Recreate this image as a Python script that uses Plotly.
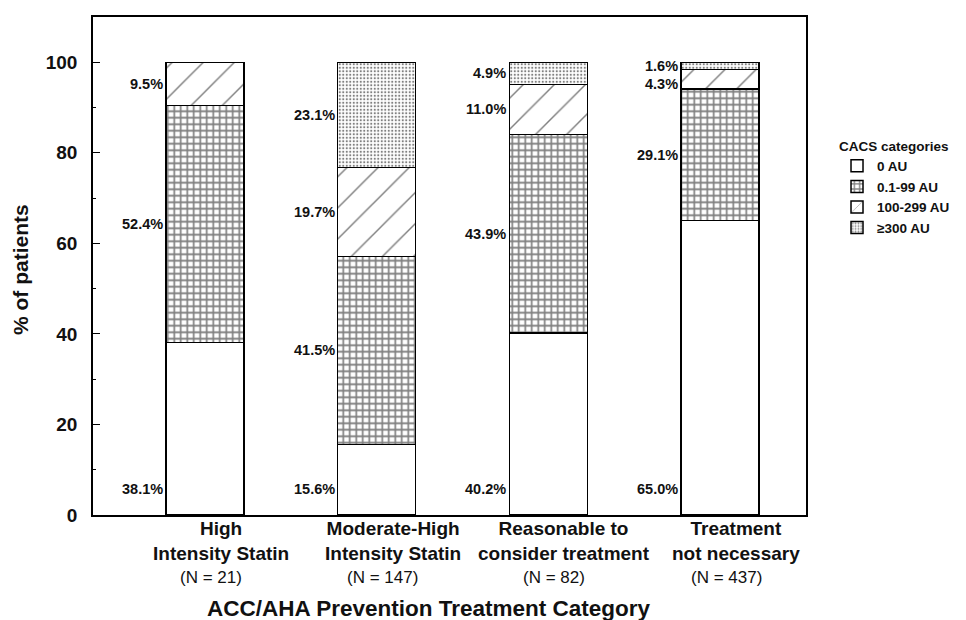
import plotly.graph_objects as go

# ---- data ----
categories = ["High<br>Intensity Statin", "Moderate-High<br>Intensity Statin",
              "Reasonable to<br>consider treatment", "Treatment<br>not necessary"]
n_labels = ["(N = 21)", "(N = 147)", "(N = 82)", "(N = 437)"]
series_names = ["0 AU", "0.1-99 AU", "100-299 AU", "≥300 AU"]
cacs_0 = [38.1, 15.6, 40.2, 65.0]
cacs_1_99 = [52.4, 41.5, 43.9, 29.1]
cacs_100_299 = [9.5, 19.7, 11.0, 4.3]
cacs_300 = [0.0, 23.1, 4.9, 1.6]
y_ticks = [0, 20, 40, 60, 80, 100]

series_values = [cacs_0, cacs_1_99, cacs_100_299, cacs_300]
patterns = [
    dict(shape=""),
    dict(shape="+", fgcolor="black", bgcolor="white", size=6.5, solidity=0.45),
    dict(shape="/", fgcolor="black", bgcolor="white", size=22, solidity=0.065),
    dict(shape=".", fgcolor="black", bgcolor="white", size=3.5, solidity=0.3),
]

FONT = "Liberation Sans, Arial, sans-serif"
BAR_W = 0.454
MIN_GAP = 4.0  # minimum label separation (axis units)
xs = list(range(len(categories)))

fig = go.Figure()
for name, vals, pat in zip(series_names, series_values, patterns):
    fig.add_trace(go.Bar(
        x=xs, y=vals, name=f"<b>{name}</b>", width=BAR_W,
        marker=dict(color="white", line=dict(color="black", width=1.5), pattern=pat),
        hoverinfo="skip",
    ))

annotations = []
lab_font = dict(size=14.5, family=FONT, color="#111")
# percentage labels to the left of each segment
for i in xs:
    base = 0.0
    placed = []
    for s, vals in enumerate(series_values):
        v = vals[i]
        if v > 0 and s > 0:
            placed.append((base + v / 2, v))
        elif v > 0 and s == 0:
            annotations.append(dict(x=i - BAR_W / 2, y=0, xref="x", yref="y",
                                    text=f"<b>{v:.1f}%</b>", showarrow=False,
                                    xanchor="right", yanchor="bottom", xshift=-1, yshift=16,
                                    font=lab_font))
        base += v
    # resolve overlaps from top down
    placed.sort(key=lambda p: -p[0])
    for k in range(1, len(placed)):
        if placed[k - 1][0] - placed[k][0] < MIN_GAP:
            placed[k] = (placed[k - 1][0] - MIN_GAP, placed[k][1])
    for yc, v in placed:
        annotations.append(dict(x=i - BAR_W / 2, y=yc, xref="x", yref="y",
                                text=f"<b>{v:.1f}%</b>", showarrow=False,
                                xanchor="right", yanchor="middle", xshift=-1,
                                font=lab_font))

# category labels and N labels
for i, c, t in zip(xs, categories, n_labels):
    annotations.append(dict(x=i, y=0, xref="x", yref="paper", text=f"<b>{c}</b>",
                            showarrow=False, xanchor="center", yanchor="top", yshift=-1,
                            xshift=16, align="center",
                            font=dict(size=19, family=FONT, color="#111")))
    annotations.append(dict(x=i, y=0, xref="x", yref="paper", text=t, showarrow=False,
                            xanchor="center", yanchor="middle", yshift=-62, xshift=6,
                            font=dict(size=17, family=FONT, color="#111")))

# axis titles
annotations.append(dict(x=0.47, y=0, xref="paper", yref="paper",
                        text="<b>ACC/AHA Prevention Treatment Category</b>", showarrow=False,
                        xanchor="center", yanchor="middle", yshift=-93,
                        font=dict(size=22.5, family=FONT, color="#111")))
annotations.append(dict(x=0, y=0.5, xref="paper", yref="paper",
                        text="<b>% of patients</b>", showarrow=False, textangle=-90,
                        xanchor="center", yanchor="middle", xshift=-73, yshift=-4,
                        font=dict(size=21, family=FONT, color="#111")))

fig.update_layout(
    width=958, height=612,
    margin=dict(l=85, r=160, t=7, b=105),
    barmode="stack",
    plot_bgcolor="white", paper_bgcolor="white",
    font=dict(family=FONT, color="#111"),
    showlegend=True,
    legend=dict(
        title=dict(text="<b>CACS categories</b>", font=dict(size=13.5, family=FONT)),
        x=1.0435, y=0.767, xanchor="left", yanchor="top",
        traceorder="normal", font=dict(size=13.5, family=FONT),
        bgcolor="rgba(0,0,0,0)", borderwidth=0,
    ),
    annotations=annotations,
    xaxis=dict(
        range=[-0.652, 3.5], tickvals=xs, showticklabels=False,
        ticks="", showgrid=False, zeroline=False,
        showline=True, linecolor="black", linewidth=1.5, mirror=True,
    ),
    yaxis=dict(
        range=[0, 110], tickvals=y_ticks, ticktext=[f"<b>{t}</b>" for t in y_ticks],
        ticks="inside", ticklen=7, tickwidth=1.2, tickcolor="black",
        minor=dict(tickvals=[10, 30, 50, 70, 90], ticks="inside", ticklen=3.5,
                   tickwidth=1.2, tickcolor="black"),
        showgrid=False, zeroline=False,
        showline=True, linecolor="black", linewidth=1.5, mirror=True,
        tickfont=dict(size=19, family=FONT, color="#111"),
        ticklabelstandoff=10,
    ),
)

fig.write_html("out.html")
